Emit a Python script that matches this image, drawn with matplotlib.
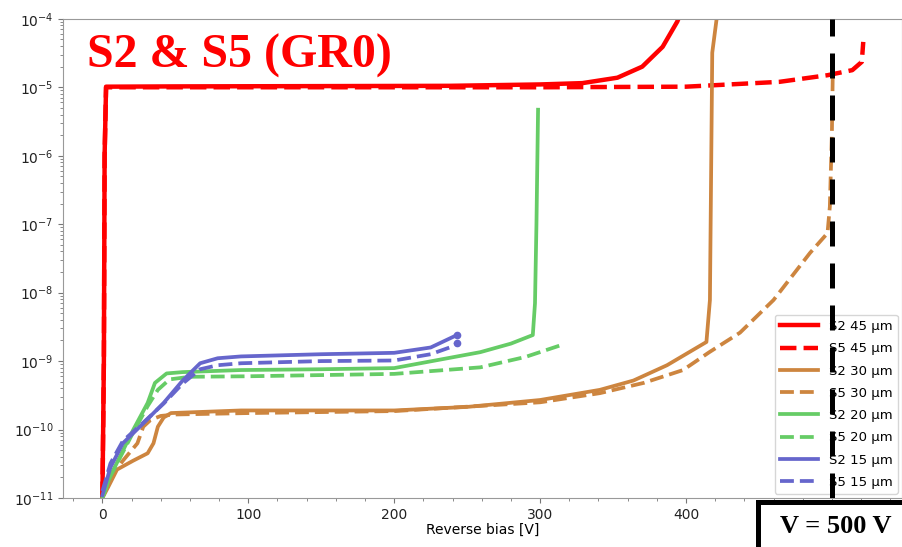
import matplotlib
matplotlib.use('Agg')
import matplotlib.pyplot as plt
from matplotlib.patches import Rectangle

# reverse bias [V] and current [A]
s2_45_v = [0, 1, 1.5, 2.5, 50, 150, 238, 300, 329, 353, 370, 384, 394, 397]
s2_45_i = [1e-11, 1e-9, 1e-6, 1.02e-5, 1.03e-5, 1.04e-5, 1.05e-5, 1.1e-5,
           1.15e-5, 1.38e-5, 2.0e-5, 3.9e-5, 9.1e-5, 1.3e-4]
s5_45_v = [0, 1, 1.5, 2.5, 100, 200, 300, 400, 464, 497, 514, 520.5, 521.5]
s5_45_i = [1e-11, 1e-9, 1e-6, 1.0e-5, 1.0e-5, 1.0e-5, 1.0e-5, 1.02e-5,
           1.2e-5, 1.5e-5, 1.78e-5, 2.35e-5, 4.6e-5]

s2_30_v = [0, 4, 10, 21, 31, 35, 38, 42, 47, 95, 200, 250, 300, 341, 364,
           387, 414, 416.4, 418, 421]
s2_30_i = [1e-11, 1.45e-11, 2.6e-11, 3.5e-11, 4.5e-11, 6.3e-11, 1.1e-10,
           1.5e-10, 1.74e-10, 1.9e-10, 1.9e-10, 2.14e-10, 2.7e-10, 3.8e-10,
           5.2e-10, 8.7e-10, 1.9e-9, 7.8e-9, 3.2e-5, 1e-4]
s5_30_v = [0, 4, 14, 24, 28, 33, 40, 50, 100, 200, 300, 341, 371, 398, 416,
           437, 460, 485, 497, 498.6, 500, 500.7]
s5_30_i = [1e-11, 1.8e-11, 3.5e-11, 6.3e-11, 1.1e-10, 1.38e-10, 1.58e-10,
           1.66e-10, 1.74e-10, 1.86e-10, 2.5e-10, 3.4e-10, 4.8e-10, 7.4e-10,
           1.35e-9, 2.6e-9, 7.8e-9, 3.8e-8, 7.4e-8, 1.8e-7, 2.1e-6, 2.2e-5]

s2_20_v = [0, 5, 21, 31, 36, 44, 55, 95, 150, 200, 259, 280, 295, 296.5,
           297.5, 298.6]
s2_20_i = [1e-11, 2e-11, 9.8e-11, 2.45e-10, 4.8e-10, 6.6e-10, 6.9e-10,
           7.4e-10, 7.6e-10, 7.9e-10, 1.35e-9, 1.8e-9, 2.4e-9, 7e-9, 1e-7,
           4.7e-6]
s5_20_v = [0, 5, 21, 31, 38, 46, 60, 100, 200, 259, 290, 314]
s5_20_i = [1e-11, 2e-11, 9e-11, 2.2e-10, 3.8e-10, 5.4e-10, 5.9e-10, 6.0e-10,
           6.5e-10, 8.1e-10, 1.15e-9, 1.7e-9]

s2_15_v = [0, 5.5, 14, 28, 42, 55, 67, 79, 95, 150, 200, 225, 243]
s2_15_i = [1.1e-11, 2.8e-11, 6.3e-11, 1.23e-10, 2.45e-10, 5.2e-10, 9.3e-10,
           1.1e-9, 1.17e-9, 1.26e-9, 1.32e-9, 1.58e-9, 2.4e-9]
s5_15_v = [0, 5.5, 14, 28, 42, 55, 67, 79, 95, 150, 200, 225, 238, 243]
s5_15_i = [1.26e-11, 3.2e-11, 6.8e-11, 1.26e-10, 2.4e-10, 4.7e-10, 7.6e-10,
           8.7e-10, 9.3e-10, 1.0e-9, 1.02e-9, 1.26e-9, 1.58e-9, 1.82e-9]

series = [
    ('S2 45 µm', s2_45_v, s2_45_i, '#ff0000', '-'),
    ('S5 45 µm', s5_45_v, s5_45_i, '#ff0000', '--'),
    ('S2 30 µm', s2_30_v, s2_30_i, '#cd853f', '-'),
    ('S5 30 µm', s5_30_v, s5_30_i, '#cd853f', '--'),
    ('S2 20 µm', s2_20_v, s2_20_i, '#66cc66', '-'),
    ('S5 20 µm', s5_20_v, s5_20_i, '#66cc66', '--'),
    ('S2 15 µm', s2_15_v, s2_15_i, '#6666cc', '-'),
    ('S5 15 µm', s5_15_v, s5_15_i, '#6666cc', '--'),
]
marked = ('S2 15 µm', 'S5 15 µm')
v_limit = 500

fig = plt.figure(figsize=(9.03, 5.47), dpi=100)
ax = fig.add_axes([0.0698, 0.0896, 0.929, 0.876])

for label, v, i, color, ls in series:
    lw = 3.2 if color == '#ff0000' else 2.7
    ax.plot(v, i, ls, color=color, lw=lw, label=label)
    if label in marked:
        # the 15 um curves end in a small blob
        ax.plot(v[-1], i[-1], 'o', color=color, ms=4.5)

ax.axvline(v_limit, color='black', lw=3.6, dashes=(5, 3.4), zorder=6)

ax.set_yscale('log')
ax.set_ylim(1e-11, 1e-4)
ax.set_xlim(-27, 548)
ax.set_xticks([0, 100, 200, 300, 400])
ax.set_xticks(range(-20, 548, 20), minor=True)
ax.set_xlabel('Reverse bias [V]', fontsize=10, labelpad=1)
ax.tick_params(labelsize=10, colors='#222222')
for side in ['left', 'bottom', 'top', 'right']:
    ax.spines[side].set_color('#999999')
ax.tick_params(which='both', color='#777777')

leg = ax.legend(loc='lower right', fontsize=9.5, handlelength=2.9,
                labelspacing=0.7, borderaxespad=0.3)
leg.set_zorder(5)

fig.text(87 / 903, 1 - 68 / 547, 'S2 & S5 (GR0)', color='#ff0000',
         family='Liberation Serif', weight='bold', fontsize=34.5,
         va='baseline')

fig.patches.append(Rectangle((758 / 903, -0.1), 0.3, 0.1 + 45 / 547,
                             transform=fig.transFigure, facecolor='white',
                             edgecolor='black', lw=3.6, zorder=10))
fig.text(836 / 903, 1 - 533 / 547, 'V = 500 V', color='black',
         family='Liberation Serif', weight='bold', fontsize=19,
         ha='center', va='baseline', zorder=11)

fig.savefig('out.png', dpi=100)
